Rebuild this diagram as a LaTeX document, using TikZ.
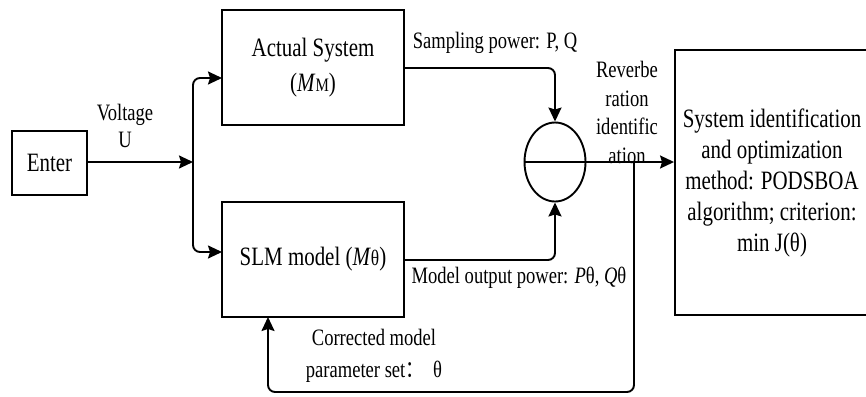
\documentclass[tikz,border=0pt]{standalone}
\usepackage{fontspec}
\setmainfont{Liberation Serif}[FakeStretch=0.79]
\newfontfamily\cjkfont{Noto Sans CJK SC}[FakeStretch=0.79]
\usetikzlibrary{shapes.geometric,arrows.meta}

\newcommand\boxfont{\fontsize{26.5}{31}\selectfont}
\newcommand\labelfont{\fontsize{23.5}{28.5}\selectfont}
\newcommand\minifont{\fontsize{19}{19}\selectfont}

\begin{document}
\begin{tikzpicture}[x=1pt,y=-1pt,line width=1.9pt,
  block/.style={draw,inner sep=0pt,align=center,font=\boxfont},
  lbl/.style={inner sep=0pt,align=center,font=\labelfont},
  arr/.style={-{Stealth[length=14pt,width=13pt,inset=2pt]}},
  roundlink/.style={rounded corners=7pt}]
\useasboundingbox (0,0) rectangle (866,396);
\clip (0,0) rectangle (866,396);

% blocks
\node[block,minimum width=75pt,minimum height=64pt] (enter) at (49.5,163) {Enter};
\node[block,minimum width=182pt,minimum height=115pt,
      font={\fontsize{26.5}{35}\selectfont}] (act) at (313,67.5)
      {Actual System\\(\textit{M}{\minifont M})};
\node[block,minimum width=182pt,minimum height=115pt] (slm) at (313,259.5)
      {SLM model (\textit{M}{\fontsize{22}{22}\selectfont θ})};
\node[draw,ellipse,inner sep=0pt,minimum width=61pt,minimum height=79pt] (cmp) at (555,162) {};
\node[block,minimum width=195pt,minimum height=265pt] (sys) at (772.5,182.5) {};
\node[inner sep=0pt,align=center,font=\boxfont] (systxt) at (772,183)
      {System identification\\and optimization\\method: PODSBOA\\algorithm; criterion:\\min J(θ)};

% junction points
\coordinate (split) at (193,162);
\coordinate (actin) at (222,78);
\coordinate (slmin) at (222,252);
\coordinate (actout) at (404,68);
\coordinate (slmout) at (404,260);
\coordinate (tap) at (634,162);
\coordinate (fbin) at (268,317);
\coordinate (fbbot) at (634,392);

% connectors
\draw (cmp.west) -- (cmp.east);
\draw[arr] (enter.east |- split) -- (split);
\draw[arr,roundlink] (split) |- (actin);
\draw[arr,roundlink] (split) |- (slmin);
\draw[arr,roundlink] (actout) -| (cmp.north);
\draw[arr,roundlink] (slmout) -| (cmp.south);
\draw[arr] (cmp.east) -- (sys.west |- cmp.east);
\draw[arr,roundlink] (tap) -- (fbbot) -| (fbin);

% labels
\node[lbl,font={\fontsize{23.5}{27}\selectfont}] (volt) at (125,125.5) {Voltage\\U};
\node[lbl] (samp) at (495,43) {Sampling power: P, Q};
\node[lbl] (rev) at (627,112.5) {Reverbe\\ration\\identific\\ation};
\node[lbl] (mout) at (519,278) {Model output power: \textit{P}θ, \textit{Q}θ};
\node[lbl,font={\fontsize{23.5}{32}\selectfont}] (corr) at (374,356)
      {Corrected model\\parameter set{\cjkfont ：}\ \ θ};
\end{tikzpicture}
\end{document}
